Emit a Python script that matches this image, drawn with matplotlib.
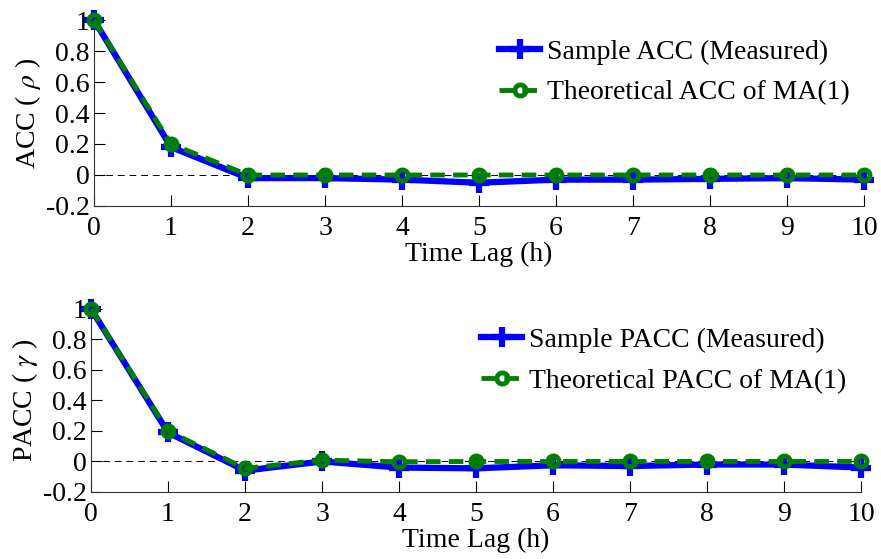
import matplotlib.pyplot as plt
from matplotlib.ticker import FuncFormatter

plt.rcParams['font.family'] = ['Liberation Serif', 'DejaVu Serif']
plt.rcParams['mathtext.fontset'] = 'stix'

lags = [0, 1, 2, 3, 4, 5, 6, 7, 8, 9, 10]
acc_sample = [1.0, 0.18, -0.02, -0.02, -0.03, -0.05, -0.03, -0.03, -0.025, -0.02, -0.03]
acc_theory = [1.0, 0.2, 0.0, 0.0, 0.0, 0.0, 0.0, 0.0, 0.0, 0.0, 0.0]
pacc_sample = [1.0, 0.19, -0.06, 0.0, -0.04, -0.045, -0.025, -0.03, -0.02, -0.02, -0.04]
pacc_theory = [1.0, 0.2, -0.045, 0.009, -0.002, 0.0, 0.0, 0.0, 0.0, 0.0, 0.0]
yticks = [-0.2, 0, 0.2, 0.4, 0.6, 0.8, 1]

fig = plt.figure(figsize=(8.81, 5.59), dpi=100)
ax1 = fig.add_axes([0.1067, 0.6315, 0.874, 0.3327])
ax2 = fig.add_axes([0.1033, 0.1199, 0.874, 0.3274])

panels = [
    (ax1, acc_sample, acc_theory, 'ACC ( $\\rho$ )',
     'Sample ACC (Measured)', 'Theoretical ACC of MA(1)', (0.965, 0.93)),
    (ax2, pacc_sample, pacc_theory, 'PACC ( $\\gamma$ )',
     'Sample PACC (Measured)', 'Theoretical PACC of MA(1)', (0.961, 0.414)),
]

for ax, samp, theo, ylab, lab1, lab2, anchor in panels:
    ax.axhline(0, color='black', lw=0.7, ls=(0, (7, 5)), zorder=1)
    ax.plot(lags, samp, color='blue', lw=4.5, marker='+', markersize=15,
            markeredgewidth=4.5, label=lab1, clip_on=False, zorder=3)
    ax.plot(lags, theo, color='green', lw=3.5, ls=(0, (3, 1.7)), marker='o',
            markersize=8, markerfacecolor='none', markeredgewidth=3.5,
            label=lab2, clip_on=False, zorder=4)
    ax.set_xlim(0, 10)
    ax.set_ylim(-0.2, 1)
    ax.set_xticks(lags)
    ax.set_yticks(yticks)
    ax.yaxis.set_major_formatter(FuncFormatter(lambda v, p: '%g' % round(v, 2)))
    ax.spines['top'].set_visible(False)
    ax.spines['right'].set_visible(False)
    for s in ['left', 'bottom']:
        ax.spines[s].set_linewidth(0.8)
        ax.spines[s].set_color('#333333')
    ax.tick_params(direction='in', length=8, width=0.8, labelsize=20, pad=3)
    ax.tick_params(axis='x', pad=7)
    ax.set_xlabel('Time Lag (h)', fontsize=20, labelpad=1)
    ax.set_ylabel(ylab, fontsize=20, labelpad=2)
    ax.legend(loc='upper right', bbox_to_anchor=anchor,
              bbox_transform=fig.transFigure, frameon=False,
              fontsize=20, handlelength=1.5, handletextpad=0.25,
              labelspacing=0.55, borderaxespad=0, borderpad=0)

fig.savefig('out.png', dpi=100)
